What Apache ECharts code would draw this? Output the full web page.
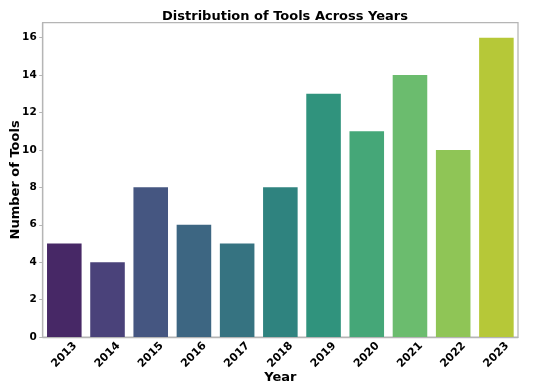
<!DOCTYPE html>
<html><head><meta charset="utf-8">
<script src="https://cdn.jsdelivr.net/npm/echarts@6/dist/echarts.min.js"></script>
<style>html,body{margin:0;padding:0;background:#fff}#c{width:550px;height:392px}</style>
</head><body><div id="c"></div>
<script>
const years = ['2013','2014','2015','2016','2017','2018','2019','2020','2021','2022','2023'];
const toolCounts = [5,4,8,6,5,8,13,11,14,10,16];
const yTicks = [0,2,4,6,8,10,12,14,16];
const baseColors = ['#471e70','#443983','#3b528b','#31688e','#297b8e','#21918c','#20a386','#35b779','#5ec962','#8fd744','#c8e020'];

function desat(hex, f){
  let r=parseInt(hex.slice(1,3),16)/255,g=parseInt(hex.slice(3,5),16)/255,b=parseInt(hex.slice(5,7),16)/255;
  const mx=Math.max(r,g,b),mn=Math.min(r,g,b);let h=0,s=0;const l=(mx+mn)/2;
  if(mx!==mn){const d=mx-mn;s=l>0.5?d/(2-mx-mn):d/(mx+mn);
    if(mx===r)h=(g-b)/d+(g<b?6:0);else if(mx===g)h=(b-r)/d+2;else h=(r-g)/d+4;h/=6;}
  s*=f;
  function hue(p,q,t){if(t<0)t+=1;if(t>1)t-=1;if(t<1/6)return p+(q-p)*6*t;if(t<1/2)return q;if(t<2/3)return p+(q-p)*(2/3-t)*6;return p;}
  let R,G,B;if(s===0){R=G=B=l;}else{const q=l<0.5?l*(1+s):l+s-l*s,p=2*l-q;R=hue(p,q,h+1/3);G=hue(p,q,h);B=hue(p,q,h-1/3);}
  const t=x=>Math.round(x*255).toString(16).padStart(2,'0');
  return '#'+t(R)+t(G)+t(B);
}
const colors = baseColors.map(c=>desat(c,0.75));
const font = 'DejaVu Sans';
const chart = echarts.init(document.getElementById('c'), null, {renderer:'canvas'});
chart.setOption({
  animation:false,
  title:{text:'Distribution of Tools Across Years',left:280,top:5,textAlign:'center',
    textStyle:{fontFamily:font,fontWeight:'bold',fontSize:13,color:'#000'}},
  grid:{left:42.7,right:32,top:22.7,bottom:55,show:true,borderColor:'#b5b5b5',borderWidth:1.25,
    outerBoundsMode:'none',containLabel:false},
  xAxis:{type:'category',data:years,name:'Year',nameLocation:'middle',nameGap:34,nameMoveOverlap:false,
    nameTextStyle:{fontFamily:font,fontWeight:'bold',fontSize:13,color:'#000'},
    axisLine:{lineStyle:{color:'#b5b5b5',width:1.25}},
    axisTick:{alignWithLabel:true,length:3.5,lineStyle:{color:'#b5b5b5'}},
    axisLabel:{rotate:45,align:'center',verticalAlign:'middle',margin:18,fontFamily:font,fontWeight:'bold',fontSize:11,color:'#000'}},
  yAxis:{type:'value',min:0,max:16.8,interval:2,name:'Number of Tools',nameLocation:'middle',nameGap:21,nameMoveOverlap:false,
    nameTextStyle:{fontFamily:font,fontWeight:'bold',fontSize:13,color:'#000'},
    splitLine:{show:false},
    axisLine:{show:true,lineStyle:{color:'#b5b5b5',width:1.25}},
    axisTick:{show:true,length:3.5,customValues:yTicks,lineStyle:{color:'#b5b5b5'}},
    axisLabel:{customValues:yTicks,margin:6,fontFamily:font,fontWeight:'bold',fontSize:10.5,color:'#000'}},
  series:[{type:'bar',barCategoryGap:'20%',
    data:toolCounts.map((v,i)=>({value:v,itemStyle:{color:colors[i]}}))}]
});
</script></body></html>
